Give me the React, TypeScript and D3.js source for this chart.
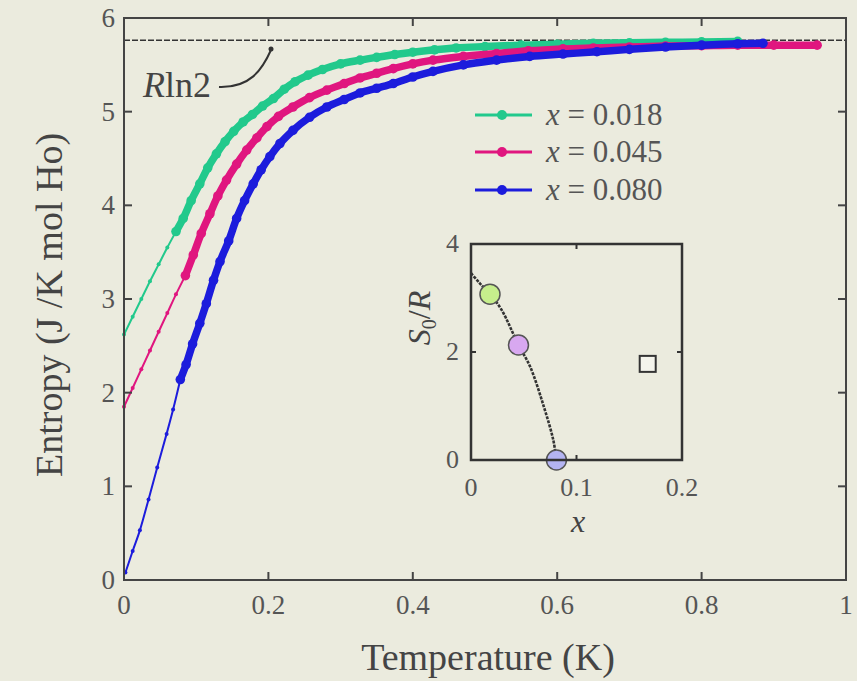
import React from "react";
import * as d3 from "d3";

// ---------- data ----------
const seriesNames = ["x = 0.018", "x = 0.045", "x = 0.080"];
const seriesColors = ["#22c98c", "#e0167f", "#1c1cdc"];
// temperature where the dense data region starts
const denseStart = [0.072, 0.085, 0.078];

const greenT = [0.0, 0.012, 0.024, 0.036, 0.048, 0.06, 0.072, 0.082, 0.093, 0.105, 0.116, 0.128, 0.14, 0.152, 0.165, 0.178, 0.192, 0.207, 0.222, 0.237, 0.255, 0.275, 0.3, 0.327, 0.35, 0.375, 0.4, 0.43, 0.46, 0.5, 0.55, 0.6, 0.65, 0.7, 0.75, 0.8, 0.85];
const greenS = [2.62, 2.81, 3.0, 3.19, 3.37, 3.55, 3.72, 3.86, 4.05, 4.23, 4.4, 4.55, 4.68, 4.79, 4.89, 4.97, 5.06, 5.14, 5.24, 5.32, 5.39, 5.45, 5.51, 5.55, 5.58, 5.61, 5.635, 5.66, 5.68, 5.695, 5.71, 5.72, 5.73, 5.735, 5.74, 5.745, 5.75];

const pinkT = [0.0, 0.012, 0.024, 0.036, 0.048, 0.06, 0.072, 0.085, 0.096, 0.107, 0.119, 0.13, 0.142, 0.156, 0.17, 0.184, 0.198, 0.214, 0.234, 0.257, 0.281, 0.305, 0.327, 0.35, 0.373, 0.4, 0.428, 0.47, 0.516, 0.56, 0.608, 0.65, 0.7, 0.75, 0.8, 0.85, 0.9, 0.96];
const pinkS = [1.85, 2.05, 2.25, 2.45, 2.65, 2.85, 3.05, 3.25, 3.47, 3.7, 3.91, 4.1, 4.27, 4.44, 4.59, 4.72, 4.84, 4.95, 5.05, 5.15, 5.23, 5.3, 5.36, 5.41, 5.46, 5.51, 5.55, 5.59, 5.62, 5.65, 5.67, 5.68, 5.69, 5.7, 5.705, 5.71, 5.71, 5.71];

const blueT = [0.002, 0.012, 0.022, 0.034, 0.046, 0.059, 0.068, 0.078, 0.086, 0.095, 0.105, 0.114, 0.124, 0.133, 0.145, 0.156, 0.167, 0.179, 0.19, 0.202, 0.216, 0.234, 0.257, 0.281, 0.305, 0.327, 0.35, 0.373, 0.4, 0.428, 0.47, 0.516, 0.562, 0.608, 0.655, 0.7, 0.75, 0.8, 0.85, 0.885];
const blueS = [0.08, 0.31, 0.53, 0.86, 1.2, 1.56, 1.82, 2.14, 2.3, 2.52, 2.74, 2.95, 3.2, 3.4, 3.62, 3.86, 4.05, 4.23, 4.38, 4.52, 4.66, 4.8, 4.94, 5.05, 5.13, 5.2, 5.25, 5.3, 5.37, 5.43, 5.5, 5.55, 5.59, 5.615, 5.64, 5.665, 5.69, 5.71, 5.725, 5.73];

const xTicks = [0, 0.2, 0.4, 0.6, 0.8, 1];
const xTickLabels = ["0", "0.2", "0.4", "0.6", "0.8", "1"];
const yTicks = [0, 1, 2, 3, 4, 5, 6];
const RLN2 = 5.763;

// inset
const insetPtX = [0.018, 0.045, 0.081];
const insetPtY = [3.07, 2.13, 0.0];
const insetPtFill = ["#c6ee8c", "#d8a8f0", "#b4b4f2"];
const insetCurveX = [0.0, 0.008, 0.018, 0.029, 0.045, 0.056, 0.069, 0.078, 0.081];
const insetCurveY = [3.46, 3.28, 3.07, 2.78, 2.13, 1.73, 0.99, 0.37, 0.0];
const insetSquare = [0.1675, 1.78];
const insetXTicks = [0, 0.1, 0.2];
const insetYTicks = [0, 2, 4];

const FONT = "'Liberation Serif', 'Times New Roman', serif";
const AX = "#444";

export default function App() {
  const x = d3.scaleLinear().domain([0, 1]).range([124, 846]);
  const y = d3.scaleLinear().domain([0, 6]).range([580, 18]);
  const ix = d3.scaleLinear().domain([0, 0.2]).range([471, 682]);
  const iy = d3.scaleLinear().domain([0, 4]).range([460, 244]);

  const series = [
    { T: greenT, S: greenS },
    { T: pinkT, S: pinkS },
    { T: blueT, S: blueS },
  ];
  const line = d3
    .line<[number, number]>()
    .x((d) => x(d[0]))
    .y((d) => y(d[1]))
    .curve(d3.curveMonotoneX);
  const iline = d3
    .line<[number, number]>()
    .x((d) => ix(d[0]))
    .y((d) => iy(d[1]))
    .curve(d3.curveCatmullRom);

  const legendY = [115, 152, 190];

  return (
    <svg
      width={857}
      height={681}
      style={{ position: "absolute", left: 0, top: 0, background: "#ebebde" }}
      fontFamily={FONT}
    >
      <rect x={0} y={0} width={857} height={681} fill="#ebebde" />
      {/* Rln2 dashed line */}
      <line
        x1={x(0)}
        x2={x(1)}
        y1={y(RLN2)}
        y2={y(RLN2)}
        stroke="#333"
        strokeWidth={1.6}
        strokeDasharray="6 2"
      />
      {/* series */}
      {series.map((s, i) => {
        const pts: [number, number][] = s.T.map((t, j) => [t, s.S[j]]);
        const thin = pts.filter((p) => p[0] <= denseStart[i] + 1e-9);
        const dense = pts.filter((p) => p[0] >= denseStart[i] - 1e-9);
        return (
          <g key={i}>
            <path d={line(thin) || ""} fill="none" stroke={seriesColors[i]} strokeWidth={2} />
            {thin.map((p, j) => (
              <circle key={"t" + j} cx={x(p[0])} cy={y(p[1])} r={2} fill={seriesColors[i]} />
            ))}
            <path
              d={line(dense) || ""}
              fill="none"
              stroke={seriesColors[i]}
              strokeWidth={7.5}
              strokeLinecap="round"
            />
            {dense.map((p, j) => (
              <circle key={"d" + j} cx={x(p[0])} cy={y(p[1])} r={4.8} fill={seriesColors[i]} />
            ))}
          </g>
        );
      })}
      {/* frame */}
      <rect
        x={x(0)}
        y={y(6)}
        width={x(1) - x(0)}
        height={y(0) - y(6)}
        fill="none"
        stroke={AX}
        strokeWidth={2}
      />
      {xTicks.map((t, i) => (
        <g key={"xt" + i}>
          <line x1={x(t)} x2={x(t)} y1={y(0)} y2={y(0) - 8} stroke={AX} strokeWidth={2} />
          <line x1={x(t)} x2={x(t)} y1={y(6)} y2={y(6) + 8} stroke={AX} strokeWidth={2} />
          <text x={x(t)} y={614} textAnchor="middle" fontSize={27} fill="#555">
            {xTickLabels[i]}
          </text>
        </g>
      ))}
      {yTicks.map((t, i) => (
        <g key={"yt" + i}>
          <line x1={x(0)} x2={x(0) + 8} y1={y(t)} y2={y(t)} stroke={AX} strokeWidth={2} />
          <line x1={x(1)} x2={x(1) - 8} y1={y(t)} y2={y(t)} stroke={AX} strokeWidth={2} />
          <text x={115} y={y(t) + 9} textAnchor="end" fontSize={27} fill="#555">
            {t}
          </text>
        </g>
      ))}
      {/* axis titles */}
      <text x={488} y={670} textAnchor="middle" fontSize={38} fill="#444">
        Temperature (K)
      </text>
      <text
        transform="translate(62,305) rotate(-90)"
        textAnchor="middle"
        fontSize={38}
        fill="#444"
      >
        Entropy (J /K mol Ho)
      </text>
      {/* Rln2 label */}
      <text x={143} y={97} fontSize={36} fill="#444">
        <tspan fontStyle="italic">R</tspan>ln2
      </text>
      <path d="M219,87 C250,88 262,70 271,50" fill="none" stroke="#333" strokeWidth={2} />
      <circle cx={271} cy={49} r={2.5} fill="#333" />
      {/* legend */}
      {seriesNames.map((n, i) => (
        <g key={"lg" + i}>
          <line x1={475} x2={532} y1={legendY[i]} y2={legendY[i]} stroke={seriesColors[i]} strokeWidth={3} />
          <circle cx={502} cy={legendY[i]} r={5} fill={seriesColors[i]} />
          <text x={546} y={legendY[i] + 10} fontSize={31} fill="#555">
            <tspan fontStyle="italic">x</tspan> = {n.replace("x = ", "")}
          </text>
        </g>
      ))}
      {/* inset */}
      <path
        d={iline(insetCurveX.map((v, j) => [v, insetCurveY[j]] as [number, number])) || ""}
        fill="none"
        stroke="#333"
        strokeWidth={2.6}
        strokeDasharray="3 1.2"
      />
      {insetPtX.map((v, j) => (
        <circle key={"ip" + j} cx={ix(v)} cy={iy(insetPtY[j])} r={10} fill={insetPtFill[j]} stroke="#555" strokeWidth={1.5} />
      ))}
      <rect
        x={ix(insetSquare[0]) - 8}
        y={iy(insetSquare[1]) - 8}
        width={16}
        height={16}
        fill="#f4f4ec"
        stroke="#333"
        strokeWidth={2}
      />
      <rect
        x={ix(0)}
        y={iy(4)}
        width={ix(0.2) - ix(0)}
        height={iy(0) - iy(4)}
        fill="none"
        stroke="#333"
        strokeWidth={2.5}
      />
      {insetXTicks.map((t, i) => (
        <g key={"ixt" + i}>
          <line x1={ix(t)} x2={ix(t)} y1={iy(0)} y2={iy(0) - 5} stroke="#333" strokeWidth={2} />
          <line x1={ix(t)} x2={ix(t)} y1={iy(4)} y2={iy(4) + 5} stroke="#333" strokeWidth={2} />
          <text x={ix(t)} y={496} textAnchor="middle" fontSize={26} fill="#555">
            {t === 0 ? "0" : t.toFixed(1)}
          </text>
        </g>
      ))}
      {insetYTicks.map((t, i) => (
        <g key={"iyt" + i}>
          <line x1={ix(0)} x2={ix(0) + 5} y1={iy(t)} y2={iy(t)} stroke="#333" strokeWidth={2} />
          <line x1={ix(0.2)} x2={ix(0.2) - 5} y1={iy(t)} y2={iy(t)} stroke="#333" strokeWidth={2} />
          <text x={459} y={iy(t) + 8} textAnchor="end" fontSize={26} fill="#555">
            {t}
          </text>
        </g>
      ))}
      <text x={578} y={532} textAnchor="middle" fontSize={32} fontStyle="italic" fill="#444">
        x
      </text>
      <text transform="translate(430,318) rotate(-90)" textAnchor="middle" fontSize={32} fill="#444">
        <tspan fontStyle="italic">S</tspan>
        <tspan fontSize={20} dy={6}>0</tspan>
        <tspan dy={-6}>/</tspan>
        <tspan fontStyle="italic">R</tspan>
      </text>
    </svg>
  );
}
